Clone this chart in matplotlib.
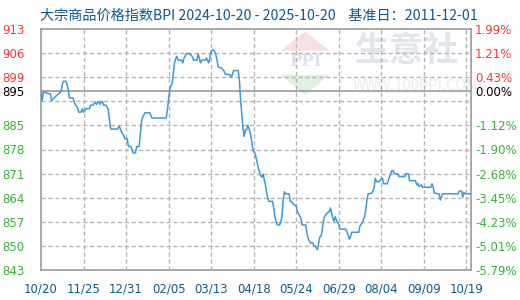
"""BPI commodity index chart, 2024-10-20 to 2025-10-20."""

import matplotlib
matplotlib.use("Agg")
import matplotlib.pyplot as plt
from matplotlib.patches import Polygon

plt.rcParams["font.family"] = ["Noto Sans CJK SC", "DejaVu Sans"]

# Day index (from 2024-10-20) and index value
days = [0, 1, 2, 8, 9, 11, 14, 17, 18, 19, 21, 22, 23, 24, 27, 29, 31, 32, 34,
        35, 36, 38, 41, 42, 44, 46, 47, 48, 49, 50, 51, 52, 53, 55, 57, 58, 59,
        65, 66, 67, 68, 70, 71, 73, 74, 76, 77, 78, 80, 81, 83, 84, 85, 86, 87,
        88, 92, 93, 94, 106, 107, 108, 109, 110, 111, 112, 113, 114, 115, 116,
        119, 120, 121, 122, 123, 126, 128, 129, 132, 133, 134, 135, 136, 139,
        140, 142, 143, 144, 146, 147, 148, 149, 150, 153, 155, 156, 160, 161,
        162, 163, 167, 168, 169, 170, 171, 172, 173, 174, 175, 176, 177, 178,
        179, 180, 181, 182, 183, 184, 186, 187, 188, 189, 190, 191, 192, 193,
        196, 197, 198, 199, 200, 202, 203, 204, 205, 206, 207, 210, 211, 212,
        214, 216, 217, 218, 220, 221, 224, 225, 226, 227, 228, 230, 231, 232,
        234, 235, 236, 237, 238, 239, 240, 242, 243, 244, 245, 246, 247, 248,
        249, 250, 252, 253, 258, 260, 261, 262, 263, 269, 270, 272, 274, 275,
        276, 277, 280, 282, 283, 284, 286, 289, 290, 293, 294, 296, 297, 298,
        299, 302, 303, 308, 309, 311, 312, 317, 318, 319, 320, 322, 323, 330,
        331, 332, 333, 337, 338, 340, 353, 354, 356, 357, 358, 359, 364]
bpi = [895.0, 892.2, 894.8, 894.2, 892.3, 893.1, 894.0, 894.9, 896.9, 897.9,
       897.9, 897.1, 895.5, 893.1, 893.1, 891.2, 890.2, 889.0, 889.0, 890.0,
       889.0, 890.0, 890.0, 891.0, 891.0, 891.9, 891.2, 891.9, 891.9, 891.2,
       891.9, 892.1, 891.0, 891.0, 889.7, 886.5, 884.1, 884.1, 884.9, 884.4,
       883.3, 882.3, 881.3, 881.3, 879.1, 879.1, 878.2, 877.2, 877.2, 879.1,
       879.1, 882.3, 886.2, 887.5, 888.1, 888.8, 888.8, 888.1, 887.3, 887.3,
       889.7, 892.6, 895.5, 896.8, 897.1, 900.0, 903.2, 904.4, 905.1, 904.0,
       904.0, 903.2, 904.6, 905.1, 905.9, 905.9, 905.1, 904.0, 904.0, 905.8,
       904.6, 903.2, 904.0, 904.0, 904.6, 903.2, 904.6, 906.7, 907.0, 906.4,
       905.6, 904.1, 902.0, 901.7, 900.8, 900.0, 899.8, 899.1, 899.8, 901.0,
       901.0, 897.9, 892.3, 888.1, 884.2, 882.0, 883.9, 883.9, 885.2, 884.4,
       883.3, 881.5, 879.0, 877.5, 877.2, 876.0, 874.4, 872.8, 870.6, 870.2,
       871.1, 869.4, 868.0, 865.6, 864.1, 863.2, 863.2, 861.3, 858.8, 857.4,
       856.4, 856.4, 857.4, 858.8, 863.6, 866.0, 865.4, 865.4, 863.2, 863.2,
       862.2, 861.9, 860.3, 859.6, 858.4, 856.4, 856.4, 854.5, 852.6, 851.9,
       851.2, 851.2, 850.4, 850.4, 849.2, 851.2, 852.9, 853.1, 854.8, 857.4,
       858.8, 859.8, 860.0, 860.3, 861.3, 859.8, 858.4, 857.4, 858.8, 857.9,
       856.7, 855.2, 855.2, 853.5, 852.3, 852.9, 854.3, 854.3, 856.1, 857.1,
       859.0, 861.0, 863.9, 865.4, 865.6, 867.0, 869.9, 868.9, 868.9, 869.9,
       868.3, 868.3, 869.2, 871.2, 872.1, 872.1, 871.2, 871.2, 870.4, 870.4,
       871.2, 871.2, 869.2, 869.2, 868.0, 868.4, 867.5, 868.0, 867.3, 867.3,
       868.3, 867.3, 865.6, 865.4, 863.6, 865.4, 865.4, 866.2, 866.2, 864.4,
       865.8, 865.4, 865.4]

base = 895.2
grid_vals = [913.0, 906.04, 899.08, 892.12, 885.16, 878.2, 871.24, 864.28,
             857.32, 850.36, 843.4]
xtick_days = [0, 36, 72, 108, 144, 180, 216, 252, 288, 324, 360]
xtick_labels = ["10/20", "11/25", "12/31", "02/05", "03/13", "04/18",
                "05/24", "06/29", "08/04", "09/09", "10/19"]
title = "大宗商品价格指数BPI 2024-10-20 - 2025-10-20    基准日：2011-12-01"

RED = "#ff3333"
GREEN = "#33b533"
BLUE_TXT = "#0d5a8c"
GRID = "#b4b4b4"

fig = plt.figure(figsize=(5.2, 3.0), dpi=100)
ax = fig.add_axes([41 / 520, 30 / 300, 430 / 520, 241 / 300])
x_end = 364

# watermark (logo + site name) on the lower axes
ax.add_patch(Polygon([[0.557, 0.91], [0.614, 0.99], [0.671, 0.91]],
                     closed=True, transform=ax.transAxes, color="#f9e0e0",
                     zorder=0.5, lw=0))
ax.add_patch(Polygon([[0.557, 0.81], [0.614, 0.725], [0.671, 0.81]],
                     closed=True, transform=ax.transAxes, color="#dff0df",
                     zorder=0.5, lw=0))
ax.text(0.614, 0.865, "PPI", transform=ax.transAxes, ha="center",
        va="center", fontsize=12, color="#dde2ee", fontweight="bold",
        family="DejaVu Serif", zorder=0.5)
ax.text((355 - 41) / 430, 1 - (51 - 29) / 241, "生意社",
        transform=ax.transAxes, ha="left", va="center", fontsize=25,
        color="#e1e5ee", fontweight="bold", zorder=0.5, clip_on=False)
ax.text((353 - 41) / 430, 1 - (86 - 29) / 241, "WWW.100PPI.COM",
        transform=ax.transAxes, ha="left", va="center", fontsize=10.5,
        color="#ebebeb", zorder=0.5, clip_on=False)

ax.set_xlim(0, x_end)
ax.set_ylim(grid_vals[-1], grid_vals[0])

for s in ax.spines.values():
    s.set_color("#999999")
    s.set_linewidth(1.2)

ax.set_xticks(xtick_days)
ax.set_xticklabels(xtick_labels, fontsize=8.5, color=BLUE_TXT,
                   family="DejaVu Sans")
ax.tick_params(axis="x", length=0, pad=9)

# left axis labels
lticks = [v for v in grid_vals if abs(v - 892.12) > 0.1] + [base]
ax.set_yticks(lticks)
ax.set_yticklabels([f"{v:.0f}" for v in lticks], fontsize=8.5,
                   family="DejaVu Sans")
ax.tick_params(axis="y", length=0, pad=12)
for lab, v in zip(ax.get_yticklabels(), lticks):
    lab.set_color("black" if v == base else (RED if v > base else GREEN))

# right axes: percent labels, grid, base line and the index line
ax2 = ax.twinx()
ax2.set_ylim(ax.get_ylim())
ax2.set_xlim(0, x_end)

for g in grid_vals[1:-1]:
    ax2.plot([0, x_end], [g, g], color=GRID, lw=1.0, ls="--",
             dashes=(3, 2), zorder=2)
for d in xtick_days[1:]:
    ax2.plot([d, d], [grid_vals[-1], grid_vals[0]], color=GRID, lw=1.0,
             ls="--", dashes=(3, 2), zorder=2)
ax2.axhline(base, color="#999999", lw=1.2, zorder=2.2)
ax2.plot(days, bpi, color="#3a9ad9", lw=1.1, zorder=3)

ax2.set_yticks(lticks)
ax2.set_yticklabels([f"{(v - base) / base * 100:.2f}%" for v in lticks],
                    fontsize=8.5, family="DejaVu Sans")
ax2.tick_params(axis="y", length=0, pad=3)
for lab, v in zip(ax2.get_yticklabels(), lticks):
    lab.set_color("black" if v == base else (RED if v > base else GREEN))
for s in ax2.spines.values():
    s.set_visible(False)

fig.text(40 / 520, 1 - 16 / 300, title, fontsize=10.2, color=BLUE_TXT,
         ha="left", va="center")

fig.savefig("out.png", dpi=100)
